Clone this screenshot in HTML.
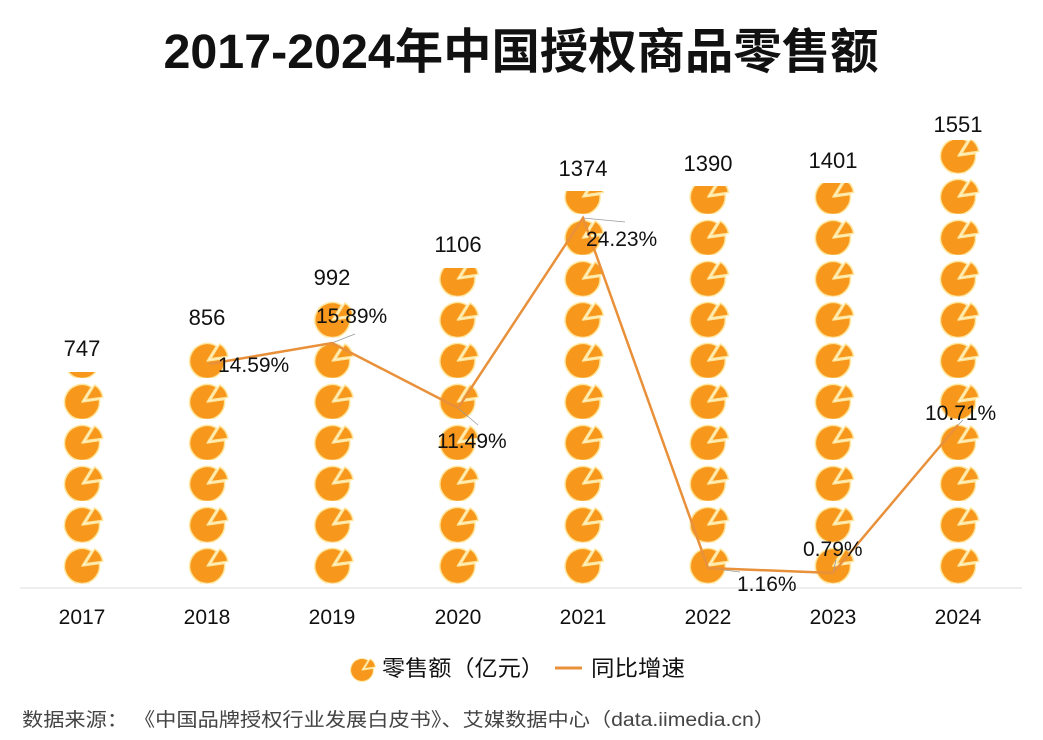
<!DOCTYPE html>
<html><head><meta charset="utf-8"><style>
body{margin:0;background:#fff;}
svg{display:block;font-family:"Liberation Sans","Noto Sans CJK SC",sans-serif;}
</style></head><body>
<svg width="1043" height="740" viewBox="0 0 1043 740" xmlns="http://www.w3.org/2000/svg">
<defs>
<g id="pie">
<path d="M0 0 L17.33 -2.44 A17.5 17.5 0 1 1 9.27 -14.84 Z" fill="#F7981C" stroke="#FFE7A0" stroke-width="1.5" stroke-linejoin="round"/>
<path d="M3.4 -2.2 L20.73 -4.64 A17.5 17.5 0 0 0 12.67 -17.04 Z" fill="#F7981C" stroke="#FFE7A0" stroke-width="1.5" stroke-linejoin="round"/>
</g>
<pattern id="pp" patternUnits="userSpaceOnUse" x="62" y="9" width="125.143" height="41">
<use href="#pie" x="20" y="24"/>
</pattern>
</defs>
<text x="521" y="68" text-anchor="middle" font-size="48" font-weight="bold" fill="#111" textLength="715" lengthAdjust="spacingAndGlyphs">2017-2024年中国授权商品零售额</text>
<line x1="20" y1="588" x2="1022" y2="588" stroke="#ddd" stroke-width="1"/>
<g fill="url(#pp)">
<rect x="60" y="372" width="48" height="216"/>
<rect x="185" y="340" width="48" height="248"/>
<rect x="310" y="301" width="48" height="287"/>
<rect x="436" y="268" width="48" height="320"/>
<rect x="561" y="191" width="48" height="397"/>
<rect x="686" y="186" width="48" height="402"/>
<rect x="811" y="183" width="48" height="405"/>
<rect x="936" y="140" width="48" height="448"/>
</g>
<g font-size="22" fill="#111" text-anchor="middle">
<text x="82" y="356">747</text><text x="207" y="325">856</text><text x="332" y="285">992</text><text x="458" y="252">1106</text>
<text x="583" y="176">1374</text><text x="708" y="171">1390</text><text x="833" y="168">1401</text><text x="958" y="132">1551</text>
</g>
<g stroke="#999" stroke-width="0.8">
<line x1="332" y1="343" x2="355" y2="334"/><line x1="458" y1="408" x2="478" y2="425"/><line x1="583" y1="218" x2="625" y2="222"/>
<line x1="708" y1="568" x2="740" y2="572"/><line x1="833" y1="573" x2="836" y2="560"/><line x1="958" y1="425" x2="963" y2="420"/>
</g>
<polyline points="209,364 332,343 458,408 583,218 708,568 833,573 958,425" fill="none" stroke="#E8903A" stroke-width="2.5"/>
<g font-size="21" fill="#111">
<text x="218" y="372">14.59%</text><text x="316" y="323">15.89%</text><text x="437" y="448">11.49%</text>
<text x="586" y="246">24.23%</text><text x="737" y="591">1.16%</text><text x="803" y="556">0.79%</text><text x="925" y="420">10.71%</text>
</g>
<g font-size="21" fill="#111" text-anchor="middle">
<text x="82" y="624">2017</text><text x="207" y="624">2018</text><text x="332" y="624">2019</text><text x="458" y="624">2020</text>
<text x="583" y="624">2021</text><text x="708" y="624">2022</text><text x="833" y="624">2023</text><text x="958" y="624">2024</text>
</g>
<g transform="translate(362,670) scale(0.65)"><use href="#pie" x="0" y="0"/></g>
<text x="382" y="676" font-size="22" fill="#111" textLength="162" lengthAdjust="spacingAndGlyphs">零售额（亿元）</text>
<line x1="555" y1="668" x2="582" y2="668" stroke="#E8903A" stroke-width="3"/>
<text x="591" y="676" font-size="22" fill="#111" textLength="94" lengthAdjust="spacingAndGlyphs">同比增速</text>
<text x="22" y="726" font-size="19" fill="#444" textLength="753" lengthAdjust="spacingAndGlyphs">数据来源： 《中国品牌授权行业发展白皮书》、艾媒数据中心（data.iimedia.cn）</text>
</svg>
</body></html>
